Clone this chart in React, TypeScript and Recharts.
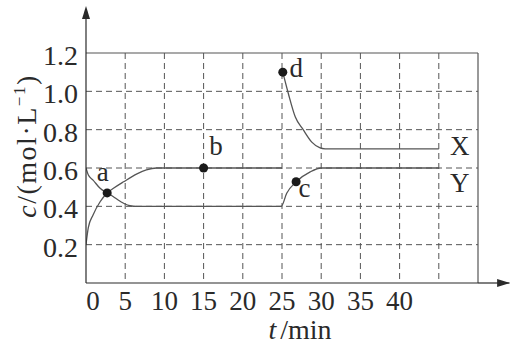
import {
  ComposedChart,
  Line,
  Scatter,
  XAxis,
  YAxis,
  CartesianGrid,
  ReferenceLine,
  ReferenceDot,
  LabelList,
} from 'recharts'

// time axis (min)
const T_TICKS = [0, 5, 10, 15, 20, 25, 30, 35, 40]
const T_GRID = [5, 10, 15, 20, 25, 30, 35, 40, 45]
// concentration axis (mol/L)
const C_TICKS = [0.2, 0.4, 0.6, 0.8, 1.0, 1.2]
const C_GRID = [0.2, 0.4, 0.6, 0.8, 1.0]

// X: rises from 0.2 to 0.6, jumps to 1.1 at 25 min, settles at 0.7
const X_PART1 = [
  { t: 0, c: 0.2 },
  { t: 0.3, c: 0.29 },
  { t: 0.9, c: 0.355 },
  { t: 1.8, c: 0.424 },
  { t: 2.7, c: 0.47 },
  { t: 3.5, c: 0.494 },
  { t: 4.8, c: 0.528 },
  { t: 6.5, c: 0.569 },
  { t: 7.7, c: 0.59 },
  { t: 9, c: 0.6 },
  { t: 25, c: 0.6 },
]
const X_PART2 = [
  { t: 25.1, c: 1.1 },
  { t: 25.8, c: 0.99 },
  { t: 26.7, c: 0.866 },
  { t: 27.7, c: 0.8 },
  { t: 28.8, c: 0.735 },
  { t: 29.8, c: 0.706 },
  { t: 30.5, c: 0.7 },
  { t: 45, c: 0.7 },
]
// Y: falls from 0.6 to 0.4, climbs back to 0.6 after 25 min
const Y_SERIES = [
  { t: 0, c: 0.6 },
  { t: 0.3, c: 0.563 },
  { t: 0.9, c: 0.537 },
  { t: 1.8, c: 0.494 },
  { t: 2.7, c: 0.47 },
  { t: 3.5, c: 0.45 },
  { t: 4.1, c: 0.433 },
  { t: 4.8, c: 0.416 },
  { t: 5.6, c: 0.403 },
  { t: 6.5, c: 0.4 },
  { t: 24.9, c: 0.4 },
  { t: 25.6, c: 0.468 },
  { t: 26.8, c: 0.528 },
  { t: 28.6, c: 0.58 },
  { t: 30, c: 0.6 },
  { t: 45, c: 0.6 },
]

const POINTS = [
  { t: 2.7, c: 0.47, name: 'a' },
  { t: 15, c: 0.6, name: 'b' },
  { t: 26.8, c: 0.528, name: 'c' },
  { t: 25.1, c: 1.1, name: 'd' },
]

const LABEL_OFFSET: Record<string, [number, number]> = {
  a: [0, -16],
  b: [17, -17],
  c: [13, 11],
  d: [18, 0],
}

const FONT = "'Liberation Serif', 'Times New Roman', Times, serif"
const TXT = { fontFamily: FONT }
const INK = '#2a2a2a'
const LINE = '#555'

const XTick = ({ x, y, payload }: any) => (
  <text
    x={x + (payload.value === 0 ? 7 : 0)}
    y={y + 27}
    textAnchor="middle"
    style={TXT}
    fontSize={27}
    fill={INK}
  >
    {payload.value}
  </text>
)

const YTick = ({ x, y, payload }: any) => (
  <text
    x={x - 8}
    y={y + 12}
    textAnchor="end"
    style={TXT}
    fontSize={28}
    fill={INK}
  >
    {payload.value.toFixed(1)}
  </text>
)

const PointLabel = (props: any) => {
  const { x, y, value } = props
  const [dx, dy] = LABEL_OFFSET[value] || [0, 0]
  return (
    <text
      x={x + dx}
      y={y + dy}
      textAnchor="middle"
      dominantBaseline="central"
      style={TXT}
      fontSize={27}
      fill={INK}
    >
      {value}
    </text>
  )
}

const endLabel = (name: string, dy: number, last: number) => (props: any) => {
  const { x, y, index } = props
  if (index !== last) return null
  return (
    <text
      x={x + 21}
      y={y + dy}
      textAnchor="middle"
      dominantBaseline="central"
      style={TXT}
      fontSize={27}
      fill={INK}
    >
      {name}
    </text>
  )
}

const ArrowUp = ({ cx, cy }: any) => (
  <path d={`M${cx},${cy} L${cx - 4},${cy + 13} L${cx + 4},${cy + 13} Z`} fill={INK} />
)
const ArrowRight = ({ cx, cy }: any) => (
  <path d={`M${cx},${cy} L${cx - 13},${cy - 4} L${cx - 13},${cy + 4} Z`} fill={INK} />
)

export default function App() {
  return (
    <div style={{ position: 'absolute', left: 0, top: 0, width: 512, height: 346, background: '#fff' }}>
      <ComposedChart
        width={512}
        height={346}
        margin={{ top: 53, right: 34, bottom: 0, left: 0 }}
      >
        <CartesianGrid
          stroke={LINE}
          strokeDasharray="6 4"
          horizontalValues={C_GRID}
          verticalValues={T_GRID}
        />
        <XAxis
          type="number"
          dataKey="t"
          domain={[0, 50]}
          ticks={T_TICKS}
          height={63}
          tickSize={0}
          tickMargin={0}
          tickLine={false}
          axisLine={{ stroke: INK, strokeWidth: 1.2 }}
          tick={<XTick />}
          allowDataOverflow
        />
        <YAxis
          type="number"
          dataKey="c"
          domain={[0, 1.2]}
          ticks={C_TICKS}
          width={86}
          tickSize={0}
          tickMargin={0}
          tickLine={false}
          axisLine={{ stroke: INK, strokeWidth: 1.2 }}
          tick={<YTick />}
          allowDataOverflow
        />
        <ReferenceLine y={1.2} stroke={LINE} strokeWidth={1.2} />
        <ReferenceLine x={50} stroke={LINE} strokeWidth={1.2} />
        <ReferenceLine
          segment={[{ x: 50, y: 0 }, { x: 54, y: 0 }]}
          stroke={INK}
          strokeWidth={1.2}
          ifOverflow="visible"
        />
        <ReferenceLine
          segment={[{ x: 0, y: 1.2 }, { x: 0, y: 1.42 }]}
          stroke={INK}
          strokeWidth={1.2}
          ifOverflow="visible"
        />
        <ReferenceDot x={54.1} y={0} ifOverflow="visible" shape={<ArrowRight />} />
        <ReferenceDot x={0} y={1.445} ifOverflow="visible" shape={<ArrowUp />} />

        <Line
          data={X_PART1}
          dataKey="c"
          type="monotone"
          stroke={LINE}
          strokeWidth={1.3}
          dot={false}
          activeDot={false}
          isAnimationActive={false}
        />
        <Line
          data={X_PART2}
          dataKey="c"
          type="monotone"
          stroke={LINE}
          strokeWidth={1.3}
          dot={false}
          activeDot={false}
          isAnimationActive={false}
        >
          <LabelList dataKey="c" content={endLabel('X', -3, X_PART2.length - 1)} />
        </Line>
        <Line
          data={Y_SERIES}
          dataKey="c"
          type="monotone"
          stroke={LINE}
          strokeWidth={1.3}
          dot={false}
          activeDot={false}
          isAnimationActive={false}
        >
          <LabelList dataKey="c" content={endLabel('Y', 15, Y_SERIES.length - 1)} />
        </Line>
        <Scatter data={POINTS} dataKey="c" fill="#1a1a1a" shape="circle" isAnimationActive={false}>
          <LabelList dataKey="name" content={<PointLabel />} />
        </Scatter>
      </ComposedChart>

      {/* axis titles */}
      <svg
        width={512}
        height={346}
        style={{ position: 'absolute', left: 0, top: 0, pointerEvents: 'none' }}
      >
        <text
          transform="translate(36,146) rotate(-90)"
          textAnchor="middle"
          style={TXT}
          fontSize={28}
          fill={INK}
          letterSpacing={1.5}
        >
          <tspan fontStyle="italic">c</tspan>
          <tspan>/(mol·L</tspan>
          <tspan fontSize={17} dy={-11}>−1</tspan>
          <tspan dy={11}>)</tspan>
        </text>
        <text x={300} y={339} textAnchor="middle" style={TXT} fontSize={28} fill={INK}>
          <tspan fontStyle="italic">t</tspan>
          <tspan dx={4}>/min</tspan>
        </text>
      </svg>
    </div>
  )
}
